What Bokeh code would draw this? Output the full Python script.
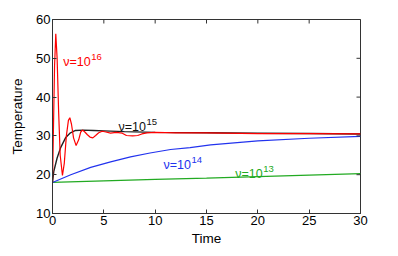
import math
from bokeh.plotting import figure
from bokeh.models import Range1d, FixedTicker, ColumnDataSource
from bokeh.core.properties import value
from bokeh.embed import file_html
from bokeh.resources import INLINE

# ---- data ----
t_red = [0, 0.1, 0.2, 0.32, 0.45, 0.6, 0.75, 0.97, 1.15, 1.35, 1.55, 1.69, 1.85, 2.05,
         2.3, 2.55, 2.75, 2.92, 3.15, 3.4, 3.65, 3.93, 4.2, 4.5, 4.84, 5.2, 5.65, 6.2,
         6.8, 7.2, 7.8, 8.3, 8.7, 9.2, 10, 12, 15, 20, 25, 30]
v_red = [18, 33, 48, 56.3, 50, 36, 25, 19.8, 23, 30, 34, 34.7, 33, 29.5,
         27.5, 29, 31, 31.5, 31, 30.3, 29.7, 29.5, 30.1, 30.8, 31.2, 31, 30.7, 30.9,
         30.7, 30.1, 30.0, 30.1, 30.5, 30.8, 30.9, 30.8, 30.8, 30.6, 30.6, 30.5]

t_black = [0, 0.13, 0.45, 0.78, 1.27, 1.75, 2.24, 3, 4, 5, 7, 10, 15, 20, 25, 30]
v_black = [18, 20.9, 24.3, 26.9, 29.5, 30.8, 31.4, 31.5, 31.4, 31.3, 31.1, 30.9, 30.8, 30.7, 30.6, 30.5]

t_blue = [0, 1.78, 3.72, 5.66, 7.6, 9.5, 11.5, 13.4, 15.4, 20, 25, 30]
v_blue = [18, 20.0, 21.9, 23.3, 24.6, 25.6, 26.5, 27.0, 27.7, 28.7, 29.4, 29.9]

t_green = [0, 5, 10, 15, 20, 25, 30]
v_green = [18, 18.4, 18.8, 19.1, 19.5, 19.9, 20.3]

label_text = ["ν=10", "ν=10", "ν=10", "ν=10"]
label_exp = ["16", "15", "14", "13"]
label_t = [1.04, 6.43, 10.8, 17.8]
label_v = [49.1, 32.4, 22.5, 20.1]
label_color = ["#ff0000", "#111111", "#2233ee", "#22aa22"]

x_ticks = [0, 5, 10, 15, 20, 25, 30]
y_ticks = [10, 20, 30, 40, 50, 60]

FONT = "Liberation Sans"
AX = "#333333"

p = figure(width=390, height=249, output_backend="svg", toolbar_location=None,
           x_range=Range1d(0, 30), y_range=Range1d(10, 60),
           min_border_left=52, min_border_right=30, min_border_top=19, min_border_bottom=36)
p.xgrid.visible = False
p.ygrid.visible = False
p.outline_line_color = AX
p.background_fill_color = "white"
p.border_fill_color = "white"

p.line(t_green, v_green, color="#22aa22", line_width=1.2)
p.line(t_blue, v_blue, color="#2233ee", line_width=1.2)
p.line(t_black, v_black, color="#222222", line_width=1.4)
p.line(t_red, v_red, color="#ff0000", line_width=1.2)

src = ColumnDataSource(dict(x=label_t, y=label_v, t=label_text, e=label_exp, c=label_color))
p.text(x="x", y="y", text="t", source=src, text_color="c", text_font=value(FONT),
       text_font_size="12.5px", text_baseline="alphabetic", text_align="left")
p.text(x="x", y="y", text="e", source=src, text_color="c", text_font=value(FONT),
       text_font_size="9.5px", text_baseline="alphabetic", text_align="left",
       x_offset=28, y_offset=-5)

# inner ticks on the top and right edges of the box (half of each dash is clipped by the frame)
top_y = [y_ticks[-1]] * len(x_ticks)
right_x = [x_ticks[-1]] * len(y_ticks)
p.scatter(x_ticks, top_y, marker="dash", size=8, angle=math.pi / 2, line_color=AX, line_width=1)
p.scatter(right_x, y_ticks, marker="dash", size=8, angle=0, line_color=AX, line_width=1)

for ax in (p.xaxis[0], p.yaxis[0]):
    ax.major_tick_in = 4
    ax.major_tick_out = 0
    ax.minor_tick_line_color = None
    ax.axis_line_color = AX
    ax.major_tick_line_color = AX
    ax.major_label_text_font = FONT
    ax.major_label_text_font_size = "13px"
    ax.major_label_text_color = "black"
    ax.axis_label_text_font = FONT
    ax.axis_label_text_font_size = "13.5px"
    ax.axis_label_text_font_style = "normal"
    ax.axis_label_text_color = "black"

p.xaxis[0].ticker = FixedTicker(ticks=x_ticks)
p.yaxis[0].ticker = FixedTicker(ticks=y_ticks)
p.xaxis[0].axis_label = "Time"
p.yaxis[0].axis_label = "Temperature"
p.xaxis[0].major_label_standoff = 2
p.xaxis[0].axis_label_standoff = 3
p.yaxis[0].major_label_standoff = 2
p.yaxis[0].axis_label_standoff = 8

open("out.html", "w").write(file_html(p, INLINE))
